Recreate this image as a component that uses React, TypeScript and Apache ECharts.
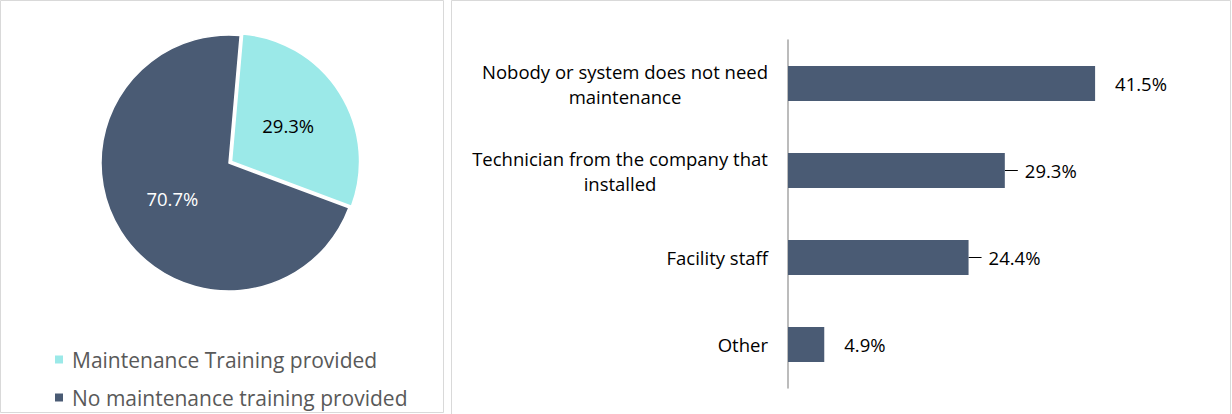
import React, { useEffect, useRef } from "react";
import * as echarts from "echarts";

const pieNames = ["Maintenance Training provided", "No maintenance training provided"];
const pieValues = [29.3, 70.7];
const pieColors = ["#9BE9E8", "#4A5B74"];
const pieLabelColors = ["#000000", "#FFFFFF"];

const barCategories = [
  "Nobody or system does not need\nmaintenance",
  "Technician from the company that\ninstalled",
  "Facility staff",
  "Other",
];
const barValues = [41.5, 29.3, 24.4, 4.9];
const barLeader = [false, true, true, false];

const FONT = '"Open Sans", "Noto Sans", sans-serif';
const AXIS_FS = 18.5;

function measure(text: string, size: number): number {
  const c = document.createElement("canvas").getContext("2d");
  if (!c) return text.length * size * 0.5;
  c.font = `${size}px "Open Sans"`;
  return c.measureText(text).width;
}

export default function App() {
  const ref = useRef<HTMLDivElement>(null);
  useEffect(() => {
    if (!ref.current) return;
    const chart = echarts.init(ref.current, null, { renderer: "svg" });

    const rich: Record<string, any> = {};
    barCategories.forEach((cat, i) => {
      const lines = cat.split("\n");
      const w = Math.ceil(Math.max(...lines.map((l) => measure(l, AXIS_FS))));
      rich["c" + i] = {
        width: w,
        align: "center",
        fontSize: AXIS_FS,
        fontFamily: FONT,
        color: "#000",
        lineHeight: 25,
      };
    });

    chart.setOption({
      animation: false,
      backgroundColor: "#ffffff",
      graphic: [
        {
          type: "rect",
          shape: { x: 0.5, y: 0.5, width: 443, height: 412 },
          style: { fill: "none", stroke: "#D9D9D9", lineWidth: 1 },
          silent: true,
        },
        {
          type: "rect",
          shape: { x: 451.5, y: 0.5, width: 779, height: 430 },
          style: { fill: "none", stroke: "#D9D9D9", lineWidth: 1 },
          silent: true,
        },
      ],
      legend: {
        orient: "vertical",
        left: 53,
        top: 349,
        padding: 0,
        itemWidth: 10,
        itemHeight: 10,
        itemGap: 17,
        icon: "rect",
        selectedMode: false,
        data: pieNames,
        textStyle: {
          color: "#595959",
          fontSize: 21,
          fontFamily: FONT,
          lineHeight: 20,
          padding: [0, 0, 0, 3],
        },
      },
      grid: { left: 788, top: 40, width: 370, height: 348, containLabel: false },
      xAxis: {
        type: "value",
        min: 0,
        max: 50,
        show: false,
        splitLine: { show: false },
      },
      yAxis: {
        type: "category",
        inverse: true,
        data: barCategories,
        axisLine: { show: true, lineStyle: { color: "#A6A6A6", width: 1.5 } },
        axisTick: { show: false },
        axisLabel: {
          margin: 20,
          fontSize: AXIS_FS,
          fontFamily: FONT,
          color: "#000",
          lineHeight: 25,
          formatter: (value: string) => {
            const lines = value.split("\n");
            if (lines.length === 1) return value;
            const i = barCategories.indexOf(value);
            return lines.map((l) => `{c${i}|${l}}`).join("\n");
          },
          rich,
        },
      },
      series: [
        {
          type: "pie",
          center: [229, 163],
          radius: [0, 128],
          startAngle: 85,
          clockwise: true,
          selectedMode: "single",
          selectedOffset: 3,
          emphasis: { disabled: true },
          label: {
            show: true,
            position: "inside",
            fontSize: 18.5,
            fontFamily: FONT,
            formatter: (p: any) => `${p.value.toFixed(1)}%`,
          },
          labelLine: { show: false },
          itemStyle: { borderColor: "#fff", borderWidth: 1.5 },
          data: pieNames.map((n, i) => ({
            name: n,
            value: pieValues[i],
            selected: i === 0,
            itemStyle: { color: pieColors[i] },
            label: { color: pieLabelColors[i] },
          })),
        },
        {
          type: "bar",
          data: barValues,
          barWidth: 35,
          itemStyle: { color: "#4A5B74" },
          emphasis: { disabled: true },
          label: {
            show: true,
            position: "right",
            distance: 20,
            fontSize: 18.5,
            fontFamily: FONT,
            color: "#000",
            formatter: (p: any) => `${p.value.toFixed(1)}%`,
          },
        },
        {
          type: "custom",
          silent: true,
          data: barValues.map((v, i) => [v, i]),
          renderItem: (params: any, api: any) => {
            const i = params.dataIndex;
            if (!barLeader[i]) return null;
            const pt = api.coord([api.value(0), api.value(1)]);
            return {
              type: "line",
              shape: { x1: pt[0], y1: pt[1], x2: pt[0] + 13, y2: pt[1] },
              style: { stroke: "#000", lineWidth: 1 },
            };
          },
        },
      ],
    });
    return () => chart.dispose();
  }, []);
  return (
    <div
      ref={ref}
      style={{ position: "fixed", left: 0, top: 0, width: 1232, height: 414 }}
    />
  );
}
